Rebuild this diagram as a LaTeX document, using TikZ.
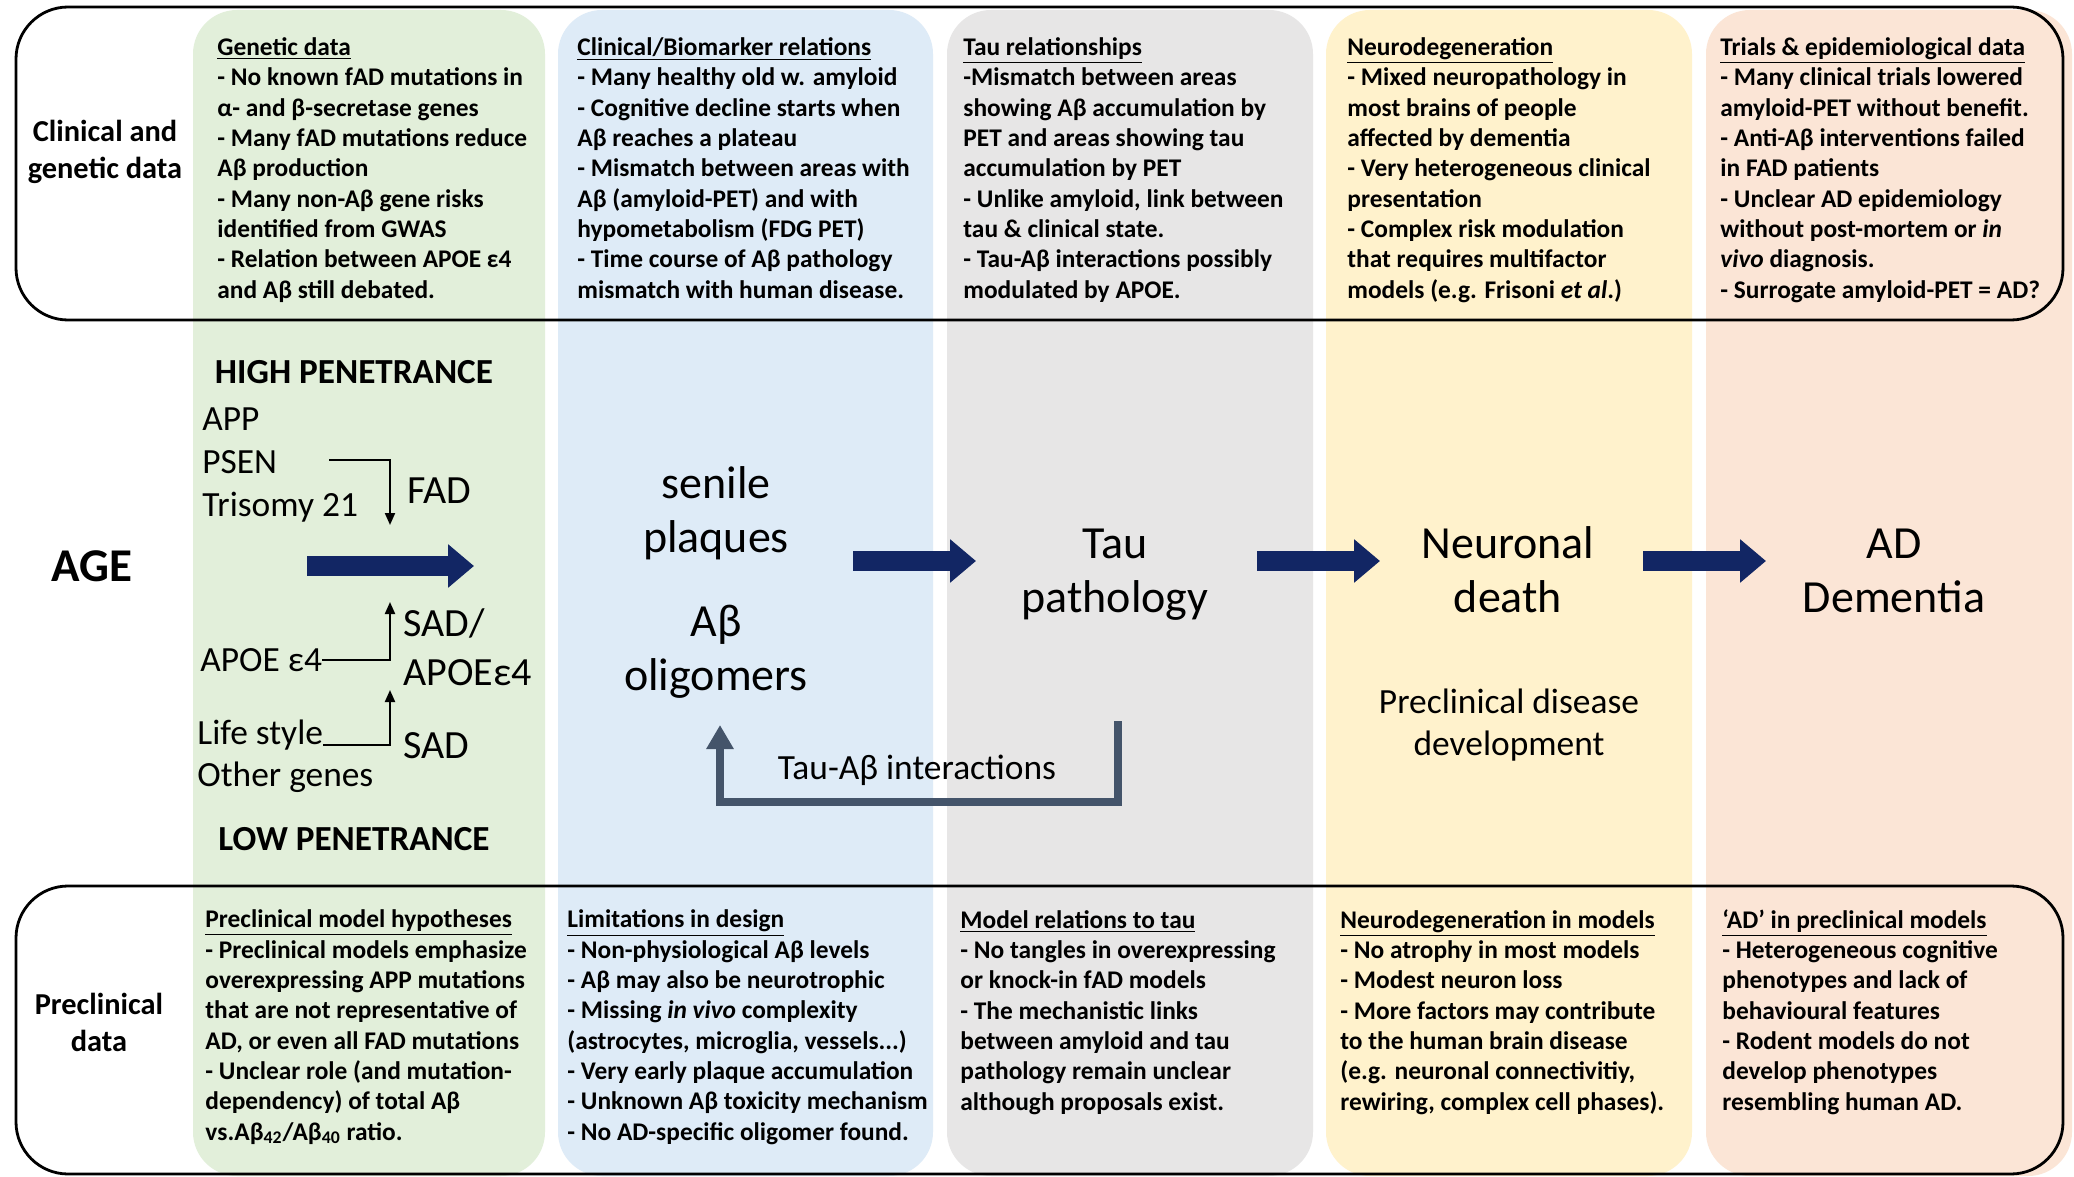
\documentclass[tikz,border=0pt]{standalone}
\usepackage{fontspec}
\setmainfont{Carlito}
\usetikzlibrary{arrows.meta}
\definecolor{cgreen}{RGB}{226,239,218}
\definecolor{cblue}{RGB}{222,235,247}
\definecolor{cgray}{RGB}{231,230,230}
\definecolor{cyellow}{RGB}{255,242,204}
\definecolor{cpink}{RGB}{251,229,214}
\definecolor{navy}{RGB}{18,38,100}
\definecolor{slate}{RGB}{68,84,106}
\begin{document}
\begin{tikzpicture}[x=0.5pt,y=-0.5pt,
  colbox/.style={rounded corners=22pt},
  framebox/.style={draw=black, line width=1.4pt, rounded corners=26pt},
  body/.style={anchor=base west, align=left, inner sep=0pt, font=\fontsize{12.7}{15.15}\selectfont\bfseries},
  rowlab/.style={align=center, inner sep=0pt, font=\fontsize{15.2}{18.5}\selectfont\bfseries},
  pen/.style={inner sep=0pt, font=\fontsize{17.6}{20}\selectfont\bfseries},
  gene/.style={anchor=west, inner sep=0pt, font=\fontsize{17.7}{20}\selectfont, text height=11.2pt, text depth=0pt},
  adlab/.style={anchor=west, inner sep=0pt, font=\fontsize{20}{24}\selectfont, text height=12.6pt, text depth=0pt},
  mid/.style={anchor=base, align=center, inner sep=0pt, font=\fontsize{23}{27}\selectfont},
  midsmall/.style={anchor=base, align=center, inner sep=0pt, font=\fontsize{17.7}{21}\selectfont},
  bigarrow/.style={draw=navy, line width=10pt, -{Triangle[length=13pt,width=21pt]}},
  fbarrow/.style={draw=slate, line width=4pt, line join=miter, -{Triangle[length=12pt,width=13pt]}},
  smallarrow/.style={draw=black, line width=1pt, -{Triangle[length=6pt,width=5pt]}}
]
\useasboundingbox (0,0) rectangle (2074,1177);
\fill[white] (0,0) rectangle (2074,1177);

% columns
\fill[cgreen,colbox] (193,10) rectangle (545,1176);
\fill[cblue,colbox] (558,10) rectangle (933,1176);
\fill[cgray,colbox] (947,10) rectangle (1313,1176);
\fill[cyellow,colbox] (1326,10) rectangle (1692,1176);
\fill[cpink,colbox] (1706,10) rectangle (2072,1176);

% frames
\draw[framebox] (16,7) rectangle (2063,320);
\draw[framebox] (16,886) rectangle (2063,1174);

% row labels
\node[rowlab] (rowclin) at (105,152) {Clinical and\\genetic data};
\node[rowlab] (rowpre) at (99,1022) {Preclinical\\data};

% top texts (anchor = baseline of last line)
\node[body] (tgen) at (217,298) {\underline{Genetic data}\\
- No known fAD mutations in\\
α- and β-secretase genes\\
- Many fAD mutations reduce\\
Aβ production\\
- Many non-Aβ gene risks\\
identified from GWAS\\
- Relation between APOE ε4\\
and Aβ still debated.};

\node[body] (tclin) at (577,298) {\underline{Clinical/Biomarker relations}\\
- Many healthy old w. amyloid\\
- Cognitive decline starts when\\
Aβ reaches a plateau\\
- Mismatch between areas with\\
Aβ (amyloid-PET) and with\\
hypometabolism (FDG PET)\\
- Time course of Aβ pathology\\
mismatch with human disease.};

\node[body] (ttau) at (963,298) {\underline{Tau relationships}\\
-Mismatch between areas\\
showing Aβ accumulation by\\
PET and areas showing tau\\
accumulation by PET\\
- Unlike amyloid, link between\\
tau \& clinical state.\\
- Tau-Aβ interactions possibly\\
modulated by APOE.};

\node[body] (tneu) at (1347,298) {\underline{Neurodegeneration}\\
- Mixed neuropathology in\\
most brains of people\\
affected by dementia\\
- Very heterogeneous clinical\\
presentation\\
- Complex risk modulation\\
that requires multifactor\\
models (e.g. Frisoni \textit{et al}.)};

\node[body] (ttri) at (1720,298) {\underline{Trials \& epidemiological data}\\
- Many clinical trials lowered\\
amyloid-PET without benefit.\\
- Anti-Aβ interventions failed\\
in FAD patients\\
- Unclear AD epidemiology\\
without post-mortem or \textit{in}\\
\textit{vivo} diagnosis.\\
- Surrogate amyloid-PET = AD?};

% bottom texts
\node[body] (bhyp) at (205,1140) {\underline{Preclinical model hypotheses}\\
- Preclinical models emphasize\\
overexpressing APP mutations\\
that are not representative of\\
AD, or even all FAD mutations\\
- Unclear role (and mutation-\\
dependency) of total Aβ\\
vs.Aβ\textsubscript{42}/Aβ\textsubscript{40} ratio.};

\node[body] (blim) at (567,1140) {\underline{Limitations in design}\\
- Non-physiological Aβ levels\\
- Aβ may also be neurotrophic\\
- Missing \textit{in vivo} complexity\\
(astrocytes, microglia, vessels...)\\
- Very early plaque accumulation\\
- Unknown Aβ toxicity mechanism\\
- No AD-specific oligomer found.};

\node[body] (btau) at (960,1110) {\underline{Model relations to tau}\\
- No tangles in overexpressing\\
or knock-in fAD models\\
- The mechanistic links\\
between amyloid and tau\\
pathology remain unclear\\
although proposals exist.};

\node[body] (bneu) at (1340,1110) {\underline{Neurodegeneration in models}\\
- No atrophy in most models\\
- Modest neuron loss\\
- More factors may contribute\\
to the human brain disease\\
(e.g. neuronal connectivitiy,\\
rewiring, complex cell phases).};

\node[body] (bad) at (1722,1110) {\underline{‘AD’ in preclinical models}\\
- Heterogeneous cognitive\\
phenotypes and lack of\\
behavioural features\\
- Rodent models do not\\
develop phenotypes\\
resembling human AD.};

% middle: genetics
\node[inner sep=0pt, font=\fontsize{23.5}{27}\selectfont\bfseries] (age) at (92,566) {AGE};
\node[pen] (high) at (354,372) {HIGH PENETRANCE};
\node[pen] (low) at (354,839) {LOW PENETRANCE};
\node[gene] (app) at (202,419) {APP};
\node[gene] (psen) at (202,462) {PSEN};
\node[gene] (tri) at (202,505) {Trisomy 21};
\node[gene] (apoe) at (200,660) {APOE ε4};
\node[gene] (life) at (197,733) {Life style};
\node[gene] (other) at (197,775) {Other genes};
\node[adlab] (fad) at (407,491) {FAD};
\node[adlab] (sad1) at (403,624) {SAD/};
\node[adlab] (sad2) at (403,673) {APOEε4};
\node[adlab] (sad) at (403,746) {SAD};

\coordinate (fadS) at (329,460);
\coordinate (fadT) at (390,525);
\coordinate (apoeT) at (390,602);
\coordinate (lifeT) at (390,690);
\draw[smallarrow] (fadS) -| (fadT);
\draw[smallarrow] (apoe.east) -| (apoeT);
\draw[smallarrow] (life.south east) -| (lifeT);

\coordinate (g1) at (307,566);
\coordinate (g2) at (474,566);
\draw[bigarrow] (g1) -- (g2);

% middle: stages (anchor = baseline of last line)
\node[mid] (plaq) at (716,552) {senile\\plaques};
\node[mid] (olig) at (716,690) {Aβ\\oligomers};
\node[mid] (tau) at (1115,612) {Tau\\pathology};
\node[mid] (death) at (1508,612) {Neuronal\\death};
\node[mid] (dem) at (1894,612) {AD\\Dementia};
\node[midsmall] (precl) at (1509,755) {Preclinical disease\\development};
\node[midsmall] (inter) at (917,779) {Tau-Aβ interactions};

\coordinate (a1s) at (853,561);
\coordinate (a1e) at (976,561);
\coordinate (a2s) at (1257,561);
\coordinate (a2e) at (1380,561);
\coordinate (a3s) at (1643,561);
\coordinate (a3e) at (1766,561);
\draw[bigarrow] (a1s) -- (a1e);
\draw[bigarrow] (a2s) -- (a2e);
\draw[bigarrow] (a3s) -- (a3e);

\coordinate (fbS) at (1118,721);
\coordinate (fbB) at (1118,802);
\coordinate (fbT) at (720,725);
\draw[fbarrow] (fbS) -- (fbB) -| (fbT);
\end{tikzpicture}
\end{document}
